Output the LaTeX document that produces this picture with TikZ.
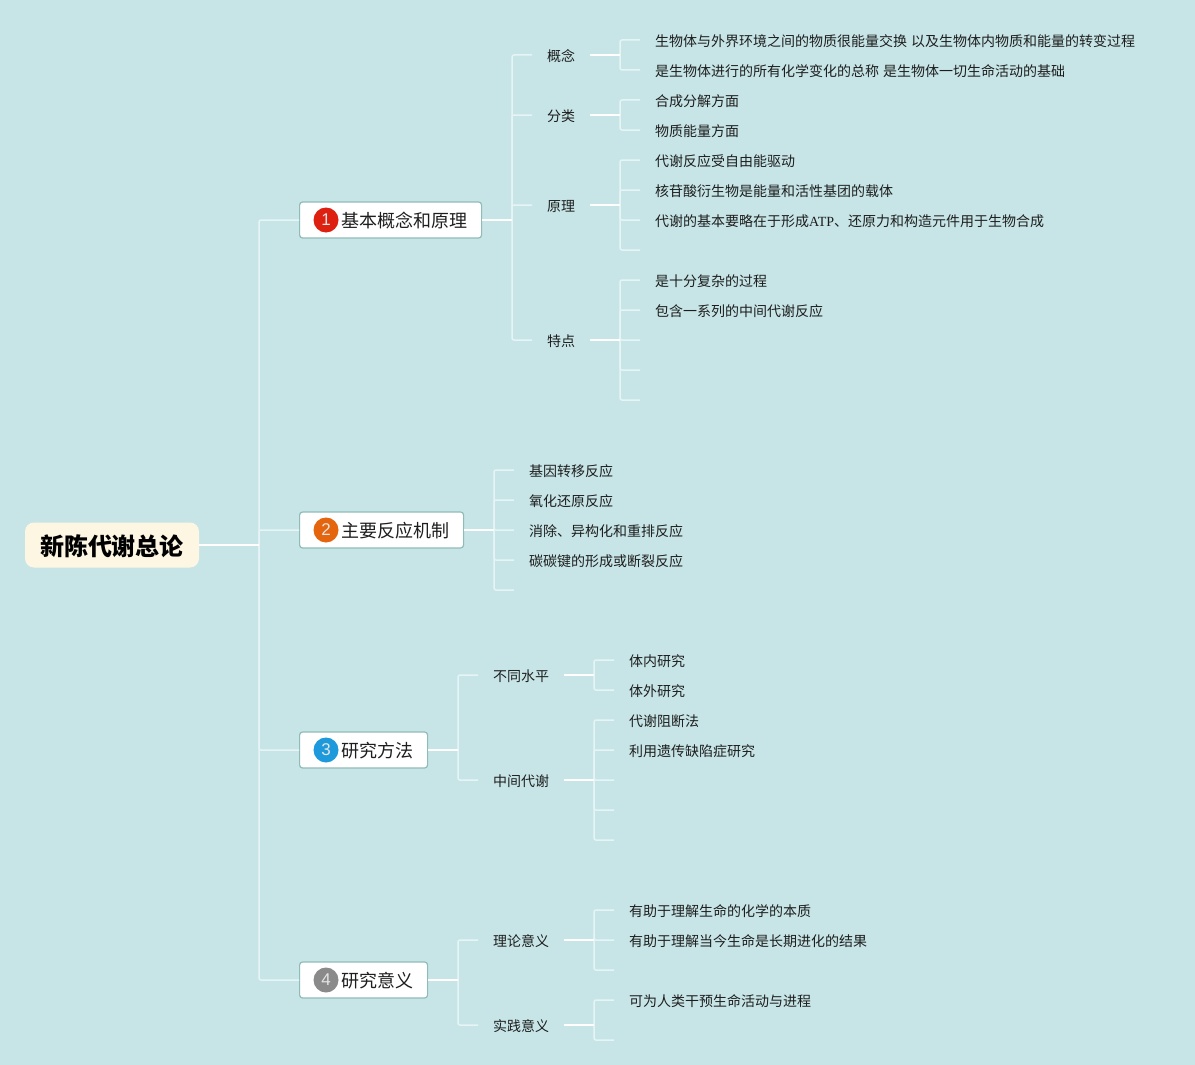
\documentclass[tikz,border=0pt]{standalone}
\usepackage{fontspec}
\setmainfont{Noto Sans CJK SC}
\newfontfamily\latinserif{Liberation Serif}
\newfontfamily\digitfont{Liberation Sans}
\definecolor{bgc}{HTML}{C7E5E7}
\definecolor{rootc}{HTML}{FDF6E3}
\definecolor{edgec}{HTML}{8FBCB8}
\definecolor{linec}{HTML}{E6F4F5}
\definecolor{inkc}{HTML}{1E1E1E}
\definecolor{badgered}{HTML}{DD2010}
\definecolor{badgeorange}{HTML}{E5650F}
\definecolor{badgeblue}{HTML}{1E9ADC}
\definecolor{badgegrey}{HTML}{8A8A8A}
\tikzset{
  rootbox/.style={draw=none,fill=rootc,rounded corners=9pt,minimum width=174pt,minimum height=45pt,inner sep=0pt,text height=21pt,text depth=0pt,font=\fontsize{24}{28}\selectfont\bfseries,text=black},
  mainbox/.style={draw=edgec,line width=1.2pt,fill=white,rounded corners=3pt,minimum height=36pt,inner sep=0pt,anchor=west,align=left,text height=15.6pt,text depth=0pt,font=\fontsize{18}{22}\selectfont,text=inkc},
  badge/.style={circle,minimum size=25pt,inner sep=0pt,text=white!90!black,font=\fontsize{17}{20}\selectfont\digitfont},
  midnode/.style={anchor=west,inner xsep=15pt,inner ysep=2pt,text height=12.6pt,text depth=0pt,font=\fontsize{14}{18}\selectfont,text=inkc},
  leafnode/.style={anchor=west,inner xsep=15pt,inner ysep=2pt,text height=12.6pt,text depth=0pt,font=\fontsize{14}{18}\selectfont,text=inkc},
  trunkline/.style={linec,line width=1.5pt,rounded corners=2pt},
  stemline/.style={white,line width=1.8pt}
}
\begin{document}
\begin{tikzpicture}[x=1pt,y=-1pt]
\useasboundingbox (0,0) rectangle (1195,1065);
\fill[bgc] (0,0) rectangle (1195,1065);

% hubs
\coordinate (h0) at (259,545);
\coordinate (h1) at (512,220);
\coordinate (h2) at (494,530);
\coordinate (h3) at (458,750);
\coordinate (h4) at (458,980);
\coordinate (s11) at (620,55);
\coordinate (s12) at (620,115);
\coordinate (s13) at (620,205);
\coordinate (s14) at (620,340);
\coordinate (s31) at (594,675);
\coordinate (s32) at (594,780);
\coordinate (s41) at (594,940);
\coordinate (s42) at (594,1025);

% free ends
\coordinate (e1) at (640,250);
\coordinate (e2) at (640,340);
\coordinate (e3) at (640,370);
\coordinate (e4) at (640,400);
\coordinate (e5) at (514,590);
\coordinate (e6) at (614,780);
\coordinate (e7) at (614,810);
\coordinate (e8) at (614,840);
\coordinate (e9) at (614,970);
\coordinate (e10) at (614,1040);

% nodes
\node[rootbox] (root) at (112,545) {新陈代谢总论};
\node[mainbox,minimum width=182pt,text width=182pt] (b1) at (299,220) {\hspace*{42pt}基本概念和原理};
\node[mainbox,minimum width=164pt,text width=164pt] (b2) at (299,530) {\hspace*{42pt}主要反应机制};
\node[mainbox,minimum width=128pt,text width=128pt] (b3) at (299,750) {\hspace*{42pt}研究方法};
\node[mainbox,minimum width=128pt,text width=128pt] (b4) at (299,980) {\hspace*{42pt}研究意义};
\node[badge,fill=badgered] (i1) at (326,220) {1};
\node[badge,fill=badgeorange] (i2) at (326,530) {2};
\node[badge,fill=badgeblue] (i3) at (326,750) {3};
\node[badge,fill=badgegrey] (i4) at (326,980) {4};

\node[midnode] (m11) at (532,55) {概念};
\node[midnode] (m12) at (532,115) {分类};
\node[midnode] (m13) at (532,205) {原理};
\node[midnode] (m14) at (532,340) {特点};
\node[midnode] (m31) at (478,675) {不同水平};
\node[midnode] (m32) at (478,780) {中间代谢};
\node[midnode] (m41) at (478,940) {理论意义};
\node[midnode] (m42) at (478,1025) {实践意义};

\node[leafnode] (a1) at (640,40) {生物体与外界环境之间的物质很能量交换\hspace{4pt}以及生物体内物质和能量的转变过程};
\node[leafnode] (a2) at (640,70) {是生物体进行的所有化学变化的总称\hspace{4pt}是生物体一切生命活动的基础};
\node[leafnode] (a3) at (640,100) {合成分解方面};
\node[leafnode] (a4) at (640,130) {物质能量方面};
\node[leafnode] (a5) at (640,160) {代谢反应受自由能驱动};
\node[leafnode] (a6) at (640,190) {核苷酸衍生物是能量和活性基团的载体};
\node[leafnode] (a7) at (640,220) {代谢的基本要略在于形成{\latinserif ATP}、还原力和构造元件用于生物合成};
\node[leafnode] (a8) at (640,280) {是十分复杂的过程};
\node[leafnode] (a9) at (640,310) {包含一系列的中间代谢反应};

\node[leafnode] (c1) at (514,470) {基因转移反应};
\node[leafnode] (c2) at (514,500) {氧化还原反应};
\node[leafnode] (c3) at (514,530) {消除、异构化和重排反应};
\node[leafnode] (c4) at (514,560) {碳碳键的形成或断裂反应};

\node[leafnode] (d1) at (614,660) {体内研究};
\node[leafnode] (d2) at (614,690) {体外研究};
\node[leafnode] (d3) at (614,720) {代谢阻断法};
\node[leafnode] (d4) at (614,750) {利用遗传缺陷症研究};

\node[leafnode] (f1) at (614,910) {有助于理解生命的化学的本质};
\node[leafnode] (f2) at (614,940) {有助于理解当今生命是长期进化的结果};
\node[leafnode] (f3) at (614,1000) {可为人类干预生命活动与进程};

% connectors
\foreach \c in {b1.west,b2.west,b3.west,b4.west} \draw[trunkline] (h0) |- (\c);
\foreach \c in {m11.west,m12.west,m13.west,m14.west} \draw[trunkline] (h1) |- (\c);
\foreach \c in {c1.west,c2.west,c3.west,c4.west,e5} \draw[trunkline] (h2) |- (\c);
\foreach \c in {m31.west,m32.west} \draw[trunkline] (h3) |- (\c);
\foreach \c in {m41.west,m42.west} \draw[trunkline] (h4) |- (\c);
\foreach \c in {a1.west,a2.west} \draw[trunkline] (s11) |- (\c);
\foreach \c in {a3.west,a4.west} \draw[trunkline] (s12) |- (\c);
\foreach \c in {a5.west,a6.west,a7.west,e1} \draw[trunkline] (s13) |- (\c);
\foreach \c in {a8.west,a9.west,e2,e3,e4} \draw[trunkline] (s14) |- (\c);
\foreach \c in {d1.west,d2.west} \draw[trunkline] (s31) |- (\c);
\foreach \c in {d3.west,d4.west,e6,e7,e8} \draw[trunkline] (s32) |- (\c);
\foreach \c in {f1.west,f2.west,e9} \draw[trunkline] (s41) |- (\c);
\foreach \c in {f3.west,e10} \draw[trunkline] (s42) |- (\c);
\draw[stemline] (root.east) -- (h0);
\draw[stemline] (b1.east) -- (h1);
\draw[stemline] (b2.east) -- (h2);
\draw[stemline] (b3.east) -- (h3);
\draw[stemline] (b4.east) -- (h4);
\draw[stemline] (m11.east) -- (s11);
\draw[stemline] (m12.east) -- (s12);
\draw[stemline] (m13.east) -- (s13);
\draw[stemline] (m14.east) -- (s14);
\draw[stemline] (m31.east) -- (s31);
\draw[stemline] (m32.east) -- (s32);
\draw[stemline] (m41.east) -- (s41);
\draw[stemline] (m42.east) -- (s42);
\end{tikzpicture}
\end{document}
